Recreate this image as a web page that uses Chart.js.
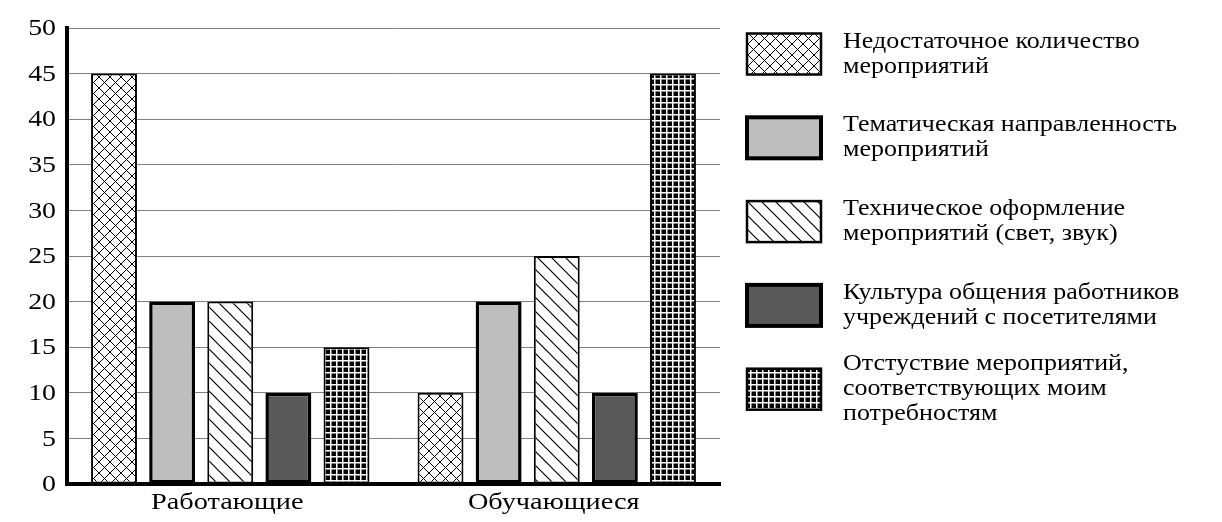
<!DOCTYPE html>
<html>
<head>
<meta charset="utf-8">
<script src="https://cdn.jsdelivr.net/npm/chart.js@4.4.1/dist/chart.umd.min.js"></script>
<style>
  html, body { margin: 0; padding: 0; background: #fff; }
  #wrap { width: 1222px; height: 522px; position: relative; }
</style>
</head>
<body>
<div id="wrap"><canvas id="c" width="1222" height="522"></canvas></div>
<script>
// ---- data ----
const categories = ['Работающие', 'Обучающиеся'];
const seriesLabels = [
  'Недостаточное количество\nмероприятий',
  'Тематическая направленность\nмероприятий',
  'Техническое оформление\nмероприятий (свет, звук)',
  'Культура общения работников\nучреждений с посетителями',
  'Отстуствие мероприятий,\nсоответствующих моим\nпотребностям'
];
const notEnough   = [45, 10];
const thematic    = [20, 20];
const technical   = [20, 25];
const culture     = [10, 10];
const absence     = [15, 45];
const yTicks = [0, 5, 10, 15, 20, 25, 30, 35, 40, 45, 50];

// ---- patterns ----
function makePattern(size, draw) {
  const c = document.createElement('canvas');
  c.width = size; c.height = size;
  const g = c.getContext('2d');
  draw(g, size);
  return g.createPattern(c, 'repeat');
}
const ctx = document.getElementById('c').getContext('2d');
const crossPat = makePattern(11, (g, s) => {
  g.fillStyle = '#fff'; g.fillRect(0, 0, s, s);
  g.strokeStyle = '#000'; g.lineWidth = 1;
  g.beginPath();
  g.moveTo(0, 0); g.lineTo(s, s);
  g.moveTo(s, 0); g.lineTo(0, s);
  g.stroke();
});
const diagPat = makePattern(14, (g, s) => {
  g.fillStyle = '#fff'; g.fillRect(0, 0, s, s);
  g.strokeStyle = '#000'; g.lineWidth = 1.2;
  g.beginPath();
  g.moveTo(-1, -1); g.lineTo(s + 1, s + 1);
  g.moveTo(-1, s - 1); g.lineTo(1, s + 1);
  g.moveTo(s - 1, -1); g.lineTo(s + 1, 1);
  g.stroke();
});
const gridPat = makePattern(6, (g, s) => {
  g.fillStyle = '#000'; g.fillRect(0, 0, s, s);
  g.fillStyle = '#fff';
  g.fillRect(0, 0, 1.5, s);
  g.fillRect(0, 0, s, 1.5);
});

const fills = [crossPat, '#bebebe', diagPat, '#595959', gridPat];
const borders = [2, 3.5, 2, 3.5, 2];
const seriesData = [notEnough, thematic, technical, culture, absence];

const SERIF = '"Liberation Serif", "Times New Roman", serif';

function stretchedText(c, text, x, y, sx, align) {
  c.save();
  c.translate(x, y);
  c.scale(sx, 1);
  c.textAlign = align;
  c.fillText(text, 0, 0);
  c.restore();
}

const textPlugin = {
  id: 'textAndLegend',
  afterDraw(chart) {
    const c = chart.ctx;
    c.save();
    c.fillStyle = '#000';
    // y tick labels
    c.font = '24px ' + SERIF;
    c.textBaseline = 'middle';
    const ys = chart.scales.y;
    yTicks.forEach(v => {
      stretchedText(c, String(v), 56, ys.getPixelForValue(v) + 1, 1.16, 'right');
    });
    // x category labels
    const xs = chart.scales.x;
    c.textBaseline = 'alphabetic';
    chart.data.labels.forEach((lab, i) => {
      stretchedText(c, lab, xs.getPixelForValue(i) - 3, 509, 1.18, 'center');
    });
    // legend
    chart.data.datasets.forEach((ds, i) => {
      const cy = 54 + i * 83.8;
      const bx = 747, bw = 74, bh = 41;
      c.fillStyle = ds.backgroundColor;
      c.fillRect(bx, cy - bh / 2, bw, bh);
      c.lineWidth = ds.borderWidth + 0.5;
      c.strokeStyle = '#000';
      c.strokeRect(bx, cy - bh / 2, bw, bh);
      const lines = ds.label.split('\n');
      c.fillStyle = '#000';
      c.font = '23px ' + SERIF;
      c.textBaseline = 'middle';
      const lh = 25;
      lines.forEach((ln, k) => {
        stretchedText(c, ln, 843, cy + (k - (lines.length - 1) / 2) * lh, 1.13, 'left');
      });
    });
    c.restore();
  }
};

new Chart(ctx, {
  type: 'bar',
  data: {
    labels: categories,
    datasets: seriesData.map((d, i) => ({
      label: seriesLabels[i],
      data: d,
      backgroundColor: fills[i],
      borderColor: '#000',
      borderWidth: borders[i],
      borderSkipped: false,
      categoryPercentage: 0.89,
      barPercentage: 0.79
    }))
  },
  options: {
    responsive: false,
    animation: false,
    devicePixelRatio: 1,
    layout: { padding: { top: 28, right: 502, left: 0, bottom: 0 } },
    plugins: { legend: { display: false }, tooltip: { enabled: false } },
    scales: {
      x: {
        grid: { display: false },
        border: { display: true, color: '#000', width: 4 },
        ticks: { display: false },
        afterFit(s) { s.height = 38; }
      },
      y: {
        min: 0, max: 50,
        afterBuildTicks(s) { s.ticks = yTicks.map(v => ({ value: v })); },
        grid: { color: '#808080', lineWidth: 1, drawTicks: false },
        border: { display: true, color: '#000', width: 4 },
        ticks: { display: false },
        afterFit(s) { s.width = 67; }
      }
    }
  },
  plugins: [textPlugin]
});
</script>
</body>
</html>
